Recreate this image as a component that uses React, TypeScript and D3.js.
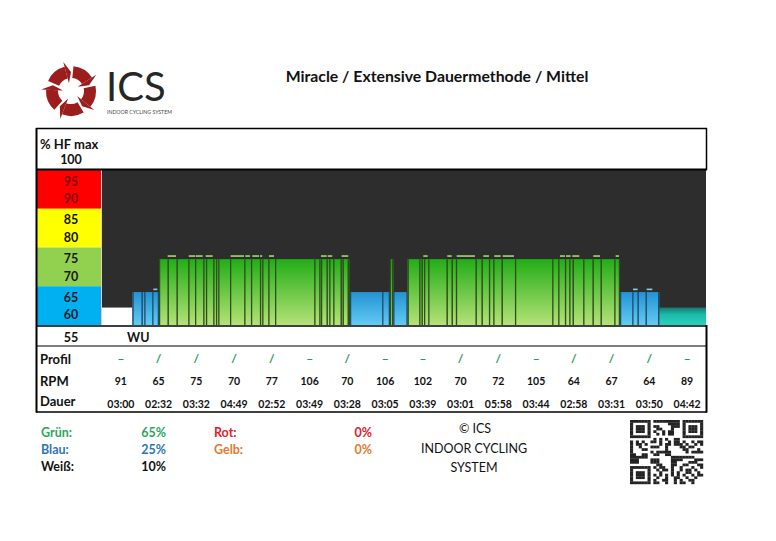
import * as d3 from "d3";

const title = "Miracle / Extensive Dauermethode / Mittel";

// heart rate bars (time in minutes, value in % HF max)
const barEdges = [
  0, 2.95, 3.84, 4.1, 4.87, 5.52,
  6.36, 7.23, 8.36, 9.01, 9.81, 10.07, 10.78, 11.04, 11.26, 12.4,
  13.78, 14.43, 15.3, 15.52, 16.11, 16.76, 20.56, 21.05, 21.21, 21.76,
  22.01, 22.4, 23.12, 23.31, 23.8, 24.02,
  27.14, 27.89, 28.21, 29.6,
  30.73, 30.96, 31.19, 31.6, 33.38, 33.87, 34.28, 36.19, 36.77, 37.48,
  37.9, 38.71, 40.0, 43.61, 44.19, 44.84, 45.26, 45.59, 46.61, 47.52,
  48.3, 49.62, 50.17,
  51.36, 51.88, 52.66, 53.97, 58.5,
];
const barZone = [
  "W", "B", "B", "B", "B",
  "G", "G", "G", "G", "G", "G", "G", "G", "G", "G", "G", "G", "G",
  "G", "G", "G", "G", "G", "G", "G", "G", "G", "G", "G", "G", "G",
  "B", "B", "G", "B",
  "G", "G", "G", "G", "G", "G", "G", "G", "G", "G", "G", "G",
  "G", "G", "G", "G", "G", "G", "G", "G", "G", "G", "G",
  "B", "B", "B", "B", "T",
];
const barHr = [
  64.5, 68.5, 68.5, 68.5, 68.5,
  77, 77, 77, 77, 77, 77, 77, 77, 77, 77, 77, 77, 77,
  77, 77, 77, 77, 77, 77, 77, 77, 77, 77, 77, 77, 77,
  68.5, 68.5, 77, 68.5,
  77, 77, 77, 77, 77, 77, 77, 77, 77, 77, 77, 77,
  77, 77, 77, 77, 77, 77, 77, 77, 77, 77, 77,
  68.5, 68.5, 68.5, 68.5, 64.5,
];

// short peaks above the bars
const capStart = [4.97, 6.36, 8.4, 9.07, 10.04, 12.46, 13.88, 14.56, 15.3, 16.17, 21.21, 21.86, 23.21,
  31.12, 33.44, 34.35, 36.93, 37.99, 38.81, 44.36, 44.94, 45.55, 47.58, 49.75, 51.43, 52.75];
const capEnd = [5.36, 7.17, 9.01, 9.75, 10.72, 13.75, 14.33, 15.21, 15.52, 16.66, 21.76, 22.3, 23.85,
  31.54, 33.87, 36.12, 37.48, 38.61, 39.9, 44.84, 45.39, 46.23, 48.23, 50.07, 51.88, 53.3];
const capHr = [69.4, 78, 78, 78, 78, 78, 78, 78, 78, 78, 78, 78, 78,
  78, 78, 78, 78, 78, 78, 78, 78, 78, 78, 78, 69.4, 69.4];

const bandTop = [100, 90, 80, 70];
const bandBottom = [90, 80, 70, 60];
const bandFill = ["#ff0000", "#ffff00", "#92d050", "#00b0f0"];
const bandText = ["#8b0000", "#111111", "#1a1a1a", "#1a1a2a"];
const bandLabels = [["95", "90"], ["85", "80"], ["75", "70"], ["65", "60"]];

const profil = ["–", "/", "/", "/", "/", "–", "/", "–", "–", "/", "/", "–", "/", "/", "/", "–"];
const rpm = [91, 65, 75, 70, 77, 106, 70, 106, 102, 70, 72, 105, 64, 67, 64, 89];
const dauer = ["03:00", "02:32", "03:32", "04:49", "02:52", "03:49", "03:28", "03:05",
  "03:39", "03:01", "05:58", "03:44", "02:58", "03:31", "03:50", "04:42"];

const statLabels = ["Grün:", "Blau:", "Weiß:"];
const statValues = ["65%", "25%", "10%"];
const statColors = ["#2aa85a", "#2e75b6", "#111111"];
const stat2Labels = ["Rot:", "Gelb:"];
const stat2Values = ["0%", "0%"];
const stat2Colors = ["#e0202a", "#e07b2f"];

const FONT = "Lato, 'Noto Sans', sans-serif";

const zoneFill: Record<string, string> = { W: "#ffffff", B: "url(#gBlue)", G: "url(#gGreen)", T: "url(#gTeal)" };
const zoneLine: Record<string, string> = { W: "none", B: "#1d4e6e", G: "#2e4f1c", T: "none" };
const zoneCap: Record<string, string> = { B: "#86cdf0", G: "#a3d76e" };

function Logo() {
  const cx = 71, cy = 91;
  const n = 5;
  const step = (2 * Math.PI) / n;
  const arc = d3.arc<any>().innerRadius(13).outerRadius(25);
  const p = (a: number, r: number) => [Math.sin(a) * r, -Math.cos(a) * r];
  const parts = d3.range(n).map((i) => {
    const a0 = i * step + 0.1;
    const a1 = a0 + step - 0.36;
    const tip = a1 + 0.26;
    const [x1, y1] = p(a1, 8);
    const [x2, y2] = p(a1, 30);
    const [x3, y3] = p(tip, 19);
    return (
      <g key={i}>
        <path d={arc({ startAngle: a0, endAngle: a1 }) || ""} fill="#9b1d1d" />
        <path d={`M${x1},${y1}L${x2},${y2}L${x3},${y3}Z`} fill="#9b1d1d" />
      </g>
    );
  });
  return (
    <g>
      <g transform={`translate(${cx},${cy})`}>{parts}</g>
      <text x={106} y={101} fontFamily={FONT} fontSize={40} fill="#262626">ICS</text>
      <text x={107} y={113.5} fontFamily={FONT} fontSize={5.2} fill="#444">INDOOR CYCLING SYSTEM</text>
    </g>
  );
}

function QR() {
  const n = 25;
  const x0 = 630, y0 = 420, w = 73 / n, h = 64 / n;
  const finder = (r: number, c: number) => {
    const spots = [[0, 0], [0, n - 7], [n - 7, 0]];
    for (const [fr, fc] of spots) {
      if (r >= fr && r < fr + 7 && c >= fc && c < fc + 7) {
        const rr = r - fr, cc = c - fc;
        const ring = Math.min(rr, cc, 6 - rr, 6 - cc);
        return ring === 0 || ring >= 2 ? 1 : 0;
      }
      if (r >= fr - 1 && r <= fr + 7 && c >= fc - 1 && c <= fc + 7) return 0;
    }
    return -1;
  };
  const cells: JSX.Element[] = [];
  for (let r = 0; r < n; r++) {
    for (let c = 0; c < n; c++) {
      let v = finder(r, c);
      if (v < 0) v = ((r * 37 + c * 23 + r * c * 11 + (r ^ c) * 5) % 7) < 3 ? 1 : 0;
      if (v) cells.push(<rect key={`${r}-${c}`} x={x0 + c * w} y={y0 + r * h} width={w + 0.2} height={h + 0.2} fill="#222" />);
    }
  }
  return <g>{cells}</g>;
}

export default function App() {
  const W = 776, H = 541;
  const left = 36, right = 707;
  const plotL = 102, plotR = 706, plotT = 170, plotB = 325;

  const x = d3.scaleLinear().domain([0, 58.5]).range([plotL, plotR]);
  const y = d3.scaleLinear().domain([60, 100]).range([plotB, plotT]);
  const col = d3.scaleBand<number>().domain(d3.range(dauer.length)).range([plotL, plotR]);
  const cx = (i: number) => (col(i) || 0) + col.bandwidth() / 2;

  const bars = barZone.map((z, i) => ({ z, hr: barHr[i], x0: x(barEdges[i]), x1: x(barEdges[i + 1]) }));

  return (
    <svg width={W} height={H} style={{ position: "absolute", left: 0, top: 0, background: "#fff" }}>
      <defs>
        <linearGradient id="gGreen" x1="0" y1="0" x2="0" y2="1">
          <stop offset="0" stopColor="#22ad17" />
          <stop offset="1" stopColor="#b5e277" />
        </linearGradient>
        <linearGradient id="gBlue" x1="0" y1="0" x2="0" y2="1">
          <stop offset="0" stopColor="#2592d2" />
          <stop offset="1" stopColor="#62cbf4" />
        </linearGradient>
        <linearGradient id="gTeal" x1="0" y1="0" x2="0" y2="1">
          <stop offset="0" stopColor="#137a70" />
          <stop offset="0.4" stopColor="#1bbba7" />
          <stop offset="1" stopColor="#27d1bd" />
        </linearGradient>
      </defs>
      <rect width={W} height={H} fill="#fff" />

      <Logo />
      <text x={437} y={82} textAnchor="middle" fontFamily={FONT} fontWeight="bold" fontSize={15.8} fill="#111">{title}</text>

      {/* header cell */}
      <text x={40} y={144} dominantBaseline="central" fontFamily={FONT} fontWeight="bold" fontSize={13} fill="#111">% HF max</text>
      <text x={71} y={159} dominantBaseline="central" textAnchor="middle" fontFamily={FONT} fontWeight="bold" fontSize={12.5} fill="#111">100</text>

      {/* zone bands */}
      {bandTop.map((t, i) => {
        const yt = y(t), yb = y(bandBottom[i]), hh = yb - yt;
        return (
          <g key={i}>
            <rect x={left} y={yt} width={plotL - left} height={hh} fill={bandFill[i]} />
            {bandLabels[i].map((l, j) => (
              <text key={j} x={71} y={yt + hh * (j === 0 ? 0.29 : 0.74)} dominantBaseline="central" textAnchor="middle"
                fontFamily={FONT} fontWeight="bold" fontSize={12.5} fill={bandText[i]}>{l}</text>
            ))}
          </g>
        );
      })}

      {/* plot */}
      <rect x={plotL} y={plotT} width={plotR - plotL} height={plotB - plotT} fill="#2d2d2d" />
      {bars.map((b, i) => (
        <rect key={i} x={b.x0} y={y(b.hr)} width={b.x1 - b.x0} height={plotB - y(b.hr)} fill={zoneFill[b.z]} />
      ))}
      {bars.map((b, i) => {
        if (zoneLine[b.z] === "none") return null;
        const next = bars[i + 1];
        const lastOfRun = !next || next.z !== b.z;
        return (
          <g key={"l" + i} stroke={zoneLine[b.z]} strokeWidth={1.3}>
            <line x1={b.x0 + 0.6} x2={b.x0 + 0.6} y1={y(b.hr)} y2={plotB} />
            {lastOfRun && <line x1={b.x1 - 0.6} x2={b.x1 - 0.6} y1={y(b.hr)} y2={plotB} />}
          </g>
        );
      })}
      {capStart.map((s, i) => (
        <rect key={"c" + i} x={x(s)} y={y(capHr[i])} width={x(capEnd[i]) - x(s)} height={1.6}
          fill={capHr[i] > 75 ? zoneCap.G : zoneCap.B} />
      ))}
      <line x1={plotL - 0.5} x2={plotL - 0.5} y1={plotT} y2={plotB} stroke="#e8c8c8" strokeWidth={1} />

      {/* grid lines */}
      <g stroke="#000" fill="none">
        <line x1={left} x2={right} y1={128.5} y2={128.5} strokeWidth={1.5} />
        <line x1={left} x2={right} y1={169.5} y2={169.5} strokeWidth={2} />
        <line x1={left} x2={right} y1={326} y2={326} strokeWidth={1.5} />
        <line x1={left} x2={right} y1={346} y2={346} strokeWidth={1.2} />
        <line x1={left} x2={right} y1={412} y2={412} strokeWidth={1.5} />
        <line x1={left + 0.5} x2={left + 0.5} y1={128} y2={412.5} strokeWidth={2} />
        <line x1={right - 0.5} x2={right - 0.5} y1={128} y2={170} strokeWidth={1.5} />
        <line x1={right - 0.5} x2={right - 0.5} y1={325} y2={412.5} strokeWidth={2} />
      </g>

      {/* table rows */}
      <g fontFamily={FONT} fontWeight="bold" fill="#111" dominantBaseline="central">
        <text x={71} y={337} textAnchor="middle" fontSize={12.5}>55</text>
        <text x={127} y={337} fontSize={12.5}>WU</text>
        <text x={40} y={359} fontSize={13}>Profil</text>
        <text x={40} y={381} fontSize={13}>RPM</text>
        <text x={40} y={401} fontSize={13}>Dauer</text>
        {rpm.map((r, i) => (
          <text key={"r" + i} x={cx(i)} y={381} textAnchor="middle" fontSize={10.5}>{r}</text>
        ))}
        {dauer.map((d, i) => (
          <text key={"d" + i} x={cx(i)} y={404} textAnchor="middle" fontSize={10.5}>{d}</text>
        ))}
      </g>
      <g fontFamily={FONT} fontWeight="bold" fill="#1f9e57" dominantBaseline="central">
        {profil.map((p, i) => (
          <text key={"p" + i} x={cx(i)} y={358} textAnchor="middle" fontSize={12}>{p}</text>
        ))}
      </g>

      {/* summary */}
      <g fontFamily={FONT} fontWeight="bold" fontSize={12.5} dominantBaseline="central">
        {statLabels.map((l, i) => (
          <g key={"s" + i} fill={statColors[i]}>
            <text x={41} y={432 + i * 17}>{l}</text>
            <text x={166} y={432 + i * 17} textAnchor="end">{statValues[i]}</text>
          </g>
        ))}
        {stat2Labels.map((l, i) => (
          <g key={"t" + i} fill={stat2Colors[i]}>
            <text x={214} y={432 + i * 17}>{l}</text>
            <text x={372} y={432 + i * 17} textAnchor="end">{stat2Values[i]}</text>
          </g>
        ))}
      </g>
      <g fontFamily={FONT} fontSize={12.5} fill="#111" textAnchor="middle" dominantBaseline="central">
        <text x={475} y={428}>© ICS</text>
        <text x={474} y={448}>INDOOR CYCLING</text>
        <text x={474} y={467}>SYSTEM</text>
      </g>
      <QR />
    </svg>
  );
}
